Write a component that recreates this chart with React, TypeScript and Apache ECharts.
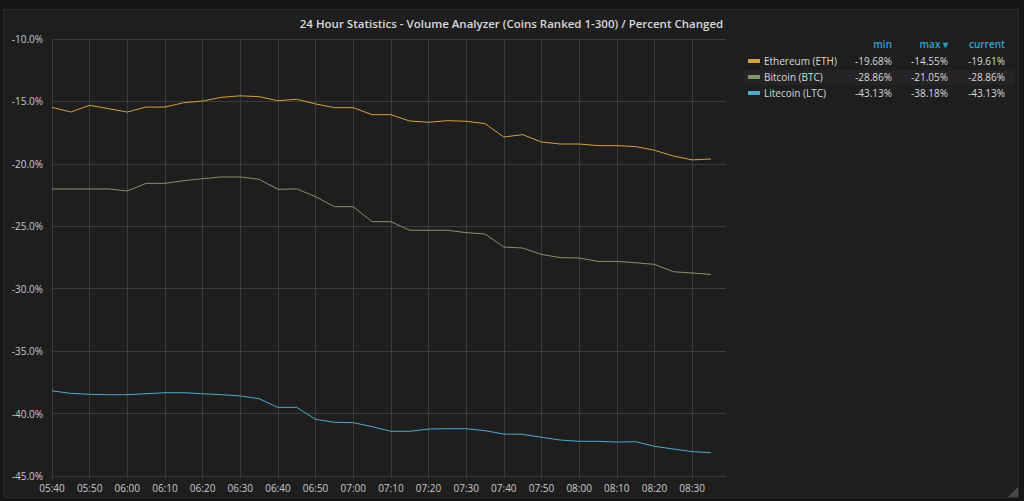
import React, { useEffect, useRef } from "react";
import * as echarts from "echarts";

// Sample times: minutes after 05:40, every 5 minutes up to 08:35
const minutes: number[] = [
  0, 5, 10, 15, 20, 25, 30, 35, 40, 45, 50, 55, 60, 65, 70, 75, 80, 85,
  90, 95, 100, 105, 110, 115, 120, 125, 130, 135, 140, 145, 150, 155, 160, 165, 170, 175,
];

const seriesNames: string[] = ["Ethereum (ETH)", "Bitcoin (BTC)", "Litecoin (LTC)"];
const seriesColors: string[] = ["#d0a045", "#7f966c", "#4fa9c9"];

const ethValues: number[] = [
  -15.47, -15.85, -15.31, -15.58, -15.85, -15.45, -15.45, -15.1, -14.97, -14.67, -14.55, -14.62,
  -14.94, -14.83, -15.2, -15.5, -15.5, -16.06, -16.06, -16.57, -16.67, -16.54, -16.59, -16.78,
  -17.85, -17.66, -18.25, -18.41, -18.41, -18.54, -18.54, -18.62, -18.91, -19.37, -19.68, -19.61,
];

const btcValues: number[] = [
  -22.01, -22.01, -22.01, -22.01, -22.17, -21.56, -21.56, -21.35, -21.19, -21.05, -21.05, -21.24,
  -22.04, -22.01, -22.63, -23.43, -23.43, -24.63, -24.63, -25.32, -25.32, -25.32, -25.51, -25.62,
  -26.66, -26.74, -27.25, -27.51, -27.54, -27.81, -27.81, -27.92, -28.05, -28.64, -28.74, -28.86,
];

const ltcValues: number[] = [
  -38.18, -38.38, -38.46, -38.49, -38.49, -38.41, -38.33, -38.33, -38.41, -38.49, -38.59, -38.81,
  -39.5, -39.5, -40.46, -40.7, -40.73, -41.05, -41.42, -41.42, -41.24, -41.21, -41.21, -41.37,
  -41.64, -41.66, -41.9, -42.12, -42.22, -42.22, -42.28, -42.25, -42.62, -42.84, -43.05, -43.13,
];

const yTicks: number[] = [-45, -40, -35, -30, -25, -20, -15, -10];
const legendHeaders: string[] = ["min", "max \u25BE", "current"];
const titleText = "24 Hour Statistics - Volume Analyzer (Coins Ranked 1-300) / Percent Changed";

const startHour = 5;
const startMinute = 40;

function clockLabel(m: number): string {
  const total = startHour * 60 + startMinute + m;
  const h = Math.floor(total / 60);
  const mm = total % 60;
  return String(h).padStart(2, "0") + ":" + String(mm).padStart(2, "0");
}

const pct = (v: number) => v.toFixed(2) + "%";

export default function App() {
  const ref = useRef<HTMLDivElement>(null);

  useEffect(() => {
    if (!ref.current) return;
    const chart = echarts.init(ref.current, null, { renderer: "svg" });
    const all = [ethValues, btcValues, ltcValues];
    const font = "'Open Sans', 'Noto Sans', sans-serif";
    const textColor = "#d8d9da";
    const gridColor = "#3b3b3b";

    const colRight = [892, 948, 1005];
    const rowY = [61, 77, 93];

    const legendElems: any[] = [];
    legendElems.push({
      type: "rect",
      shape: { x: 744, y: 70, width: 270, height: 15 },
      style: { fill: "#252325" },
      silent: true,
    });
    legendHeaders.forEach((h, i) => {
      legendElems.push({
        type: "text",
        x: colRight[i],
        y: 44,
        style: {
          text: h,
          fill: "#33a2d0",
          font: "600 10px " + font,
          align: "right",
          verticalAlign: "middle",
        },
      });
    });
    all.forEach((vals, r) => {
      const mn = Math.min(...vals);
      const mx = Math.max(...vals);
      const cur = vals[vals.length - 1];
      legendElems.push({
        type: "rect",
        shape: { x: 748, y: rowY[r] - 2, width: 12, height: 4 },
        style: { fill: seriesColors[r] },
      });
      legendElems.push({
        type: "text",
        x: 764,
        y: rowY[r],
        style: { text: seriesNames[r], fill: textColor, font: "10px " + font, verticalAlign: "middle" },
      });
      [mn, mx, cur].forEach((v, c) => {
        legendElems.push({
          type: "text",
          x: colRight[c],
          y: rowY[r],
          style: { text: pct(v), fill: textColor, font: "10px " + font, align: "right", verticalAlign: "middle" },
        });
      });
    });

    chart.setOption({
      animation: false,
      backgroundColor: "#161616",
      graphic: [
        {
          type: "rect",
          z: -10,
          shape: { x: 3.5, y: 9.5, width: 1015, height: 488 },
          style: { fill: "#1f1e1f", stroke: "#292929", lineWidth: 1 },
          silent: true,
        },
        {
          type: "polygon",
          shape: { points: [[1018, 487], [1018, 497], [1008, 497]] },
          style: { fill: "#4a4a4a" },
          silent: true,
        },
        {
          type: "text",
          x: 511.5,
          y: 23,
          style: {
            text: titleText,
            fill: textColor,
            font: "600 11.5px " + font,
            align: "center",
            verticalAlign: "middle",
          },
        },
        ...legendElems,
      ],
      grid: { left: 52, right: 298, top: 39, bottom: 25, containLabel: false },
      xAxis: {
        type: "value",
        min: 0,
        max: 179,
        interval: 10,
        axisLine: { show: true, lineStyle: { color: gridColor } },
        axisTick: { show: true, length: 3, lineStyle: { color: gridColor } },
        axisLabel: {
          color: "#c8c9ca",
          fontSize: 10,
          fontFamily: font,
          margin: 7,
          showMaxLabel: false,
          formatter: (v: number) => (v % 10 === 0 ? clockLabel(v) : ""),
        },
        splitLine: { show: true, showMaxLine: false, lineStyle: { color: gridColor, width: 1 } },
      },
      yAxis: {
        type: "value",
        min: yTicks[0],
        max: yTicks[yTicks.length - 1],
        interval: 5,
        axisLine: { show: true, lineStyle: { color: gridColor } },
        axisTick: { show: false },
        axisLabel: {
          color: "#c8c9ca",
          fontSize: 10,
          fontFamily: font,
          margin: 9,
          formatter: (v: number) => v.toFixed(1) + "%",
        },
        splitLine: { show: true, lineStyle: { color: gridColor, width: 1 } },
      },
      series: all.map((vals, i) => ({
        name: seriesNames[i],
        type: "line",
        data: minutes.map((m, k) => [m, vals[k]]),
        symbol: "none",
        lineStyle: { color: seriesColors[i], width: 1 },
        itemStyle: { color: seriesColors[i] },
      })),
    });

    return () => chart.dispose();
  }, []);

  return (
    <div
      ref={ref}
      style={{ position: "fixed", left: 0, top: 0, width: 1024, height: 501 }}
    />
  );
}
